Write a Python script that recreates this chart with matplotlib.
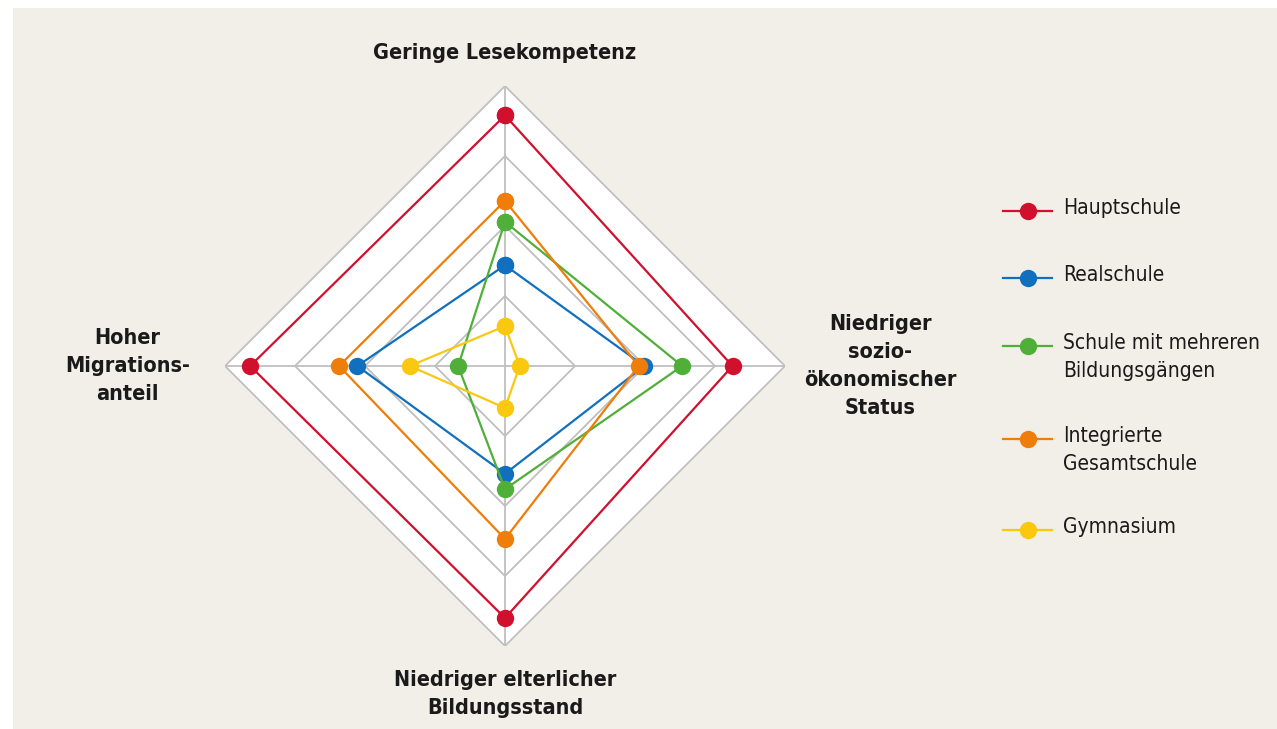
import numpy as np
import matplotlib
matplotlib.use("Agg")
import matplotlib.pyplot as plt
from matplotlib.patches import Rectangle

# Axes (clockwise from top) and values
axis_labels = [
    "Geringe Lesekompetenz",
    "Niedriger\nsozio-\nökonomischer\nStatus",
    "Niedriger elterlicher\nBildungsstand",
    "Hoher\nMigrations-\nanteil",
]
axis_angles = [90, 0, 270, 180]  # degrees

series_names = [
    "Hauptschule",
    "Realschule",
    "Schule mit mehreren\nBildungsgängen",
    "Integrierte\nGesamtschule",
    "Gymnasium",
]
hauptschule = [3.58, 3.25, 3.60, 3.64]
realschule = [1.44, 1.99, 1.54, 2.11]
mehrere = [2.06, 2.53, 1.76, 0.67]
gesamtschule = [2.36, 1.91, 2.47, 2.37]
gymnasium = [0.57, 0.21, 0.60, 1.36]
series_values = [hauptschule, realschule, mehrere, gesamtschule, gymnasium]
colors = ["#d0102d", "#1170be", "#4faf38", "#ef7d0a", "#fac80f"]

rings = [1, 2, 3, 4]

FONT = ["DejaVu Sans"]
STRETCH = "condensed"
BG = "#f2efe8"
GRID = "#bfbfbf"

W, H = 1277, 729
fig = plt.figure(figsize=(W / 100, H / 100), dpi=100, facecolor="white")
fig.patches.append(Rectangle((13 / W, 0), 1 - 13 / W, 1 - 8 / H,
                             transform=fig.transFigure, facecolor=BG,
                             edgecolor="none", zorder=-10))

# radar axes: centre (505, 366) px, radius 280 px for value 4
cx, cy, R = 505, 366, 280
ax = fig.add_axes([(cx - R) / W, (H - cy - R) / H, 2 * R / W, 2 * R / H],
                  projection="polar")
ax.set_theta_zero_location("E")
ax.set_ylim(0, 4)
ax.set_axis_off()
ax.patch.set_alpha(0)

theta = np.deg2rad(axis_angles + axis_angles[:1])

# white diamond and grid rings
ax.fill(theta, [rings[-1]] * 5, color="white", zorder=0)
for r in rings:
    ax.plot(theta, [r] * 5, color=GRID, lw=1.3, zorder=1)
for a in np.deg2rad(axis_angles):
    ax.plot([a, a], [0, rings[-1]], color=GRID, lw=1.3, zorder=1)

for vals, col in zip(series_values, colors):
    ax.plot(theta, vals + vals[:1], color=col, lw=1.6, marker="o",
            markersize=12.5, markeredgewidth=0, clip_on=False, zorder=3)

# axis labels
label_r = [4.47, 5.36, 4.69, 5.39]
for lab, ang, r in zip(axis_labels, axis_angles, label_r):
    ax.text(np.deg2rad(ang), r, lab, ha="center", va="center",
            fontsize=15.5, fontweight="bold", family=FONT, fontstretch=STRETCH,
            color="#1a1a1a", linespacing=1.5)

# legend drawn in pixel space
lg = fig.add_axes([0, 0, 1, 1])
lg.set_xlim(0, W)
lg.set_ylim(H, 0)
lg.set_axis_off()
lg.patch.set_alpha(0)
row_y = [211, 278, 346, 439, 530]
for name, col, y in zip(series_names, colors, row_y):
    lg.plot([1003, 1052], [y, y], color=col, lw=1.6)
    lg.plot([1028], [y], marker="o", color=col, markersize=12.5,
            markeredgewidth=0)
    lg.text(1063, y - 13, name, ha="left", va="top", fontsize=15,
            family=FONT, fontstretch=STRETCH, color="#1a1a1a",
            linespacing=1.5)

fig.savefig("out.png", dpi=100, facecolor="white")
